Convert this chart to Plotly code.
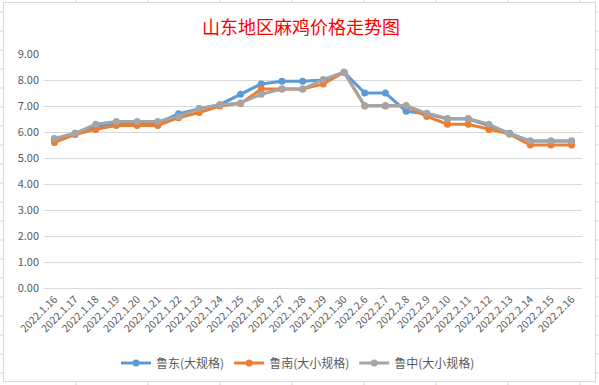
import plotly.graph_objects as go

# ---- data ----
categories = ["2022.1.16", "2022.1.17", "2022.1.18", "2022.1.19", "2022.1.20",
              "2022.1.21", "2022.1.22", "2022.1.23", "2022.1.24", "2022.1.25",
              "2022.1.26", "2022.1.27", "2022.1.28", "2022.1.29", "2022.1.30",
              "2022.2.6", "2022.2.7", "2022.2.8", "2022.2.9", "2022.2.10",
              "2022.2.11", "2022.2.12", "2022.2.13", "2022.2.14", "2022.2.15",
              "2022.2.16"]
ludong = [5.70, 5.95, 6.20, 6.35, 6.35, 6.35, 6.70, 6.90, 7.05, 7.45, 7.85, 7.95, 7.95,
          8.00, 8.30, 7.50, 7.50, 6.80, 6.70, 6.50, 6.50, 6.25, 5.95, 5.65, 5.65, 5.65]
lunan = [5.60, 5.90, 6.10, 6.25, 6.25, 6.25, 6.55, 6.75, 7.00, 7.10, 7.65, 7.65, 7.65,
         7.85, 8.30, 7.00, 7.00, 7.00, 6.60, 6.30, 6.30, 6.10, 5.92, 5.50, 5.50, 5.50]
luzhong = [5.75, 5.95, 6.30, 6.40, 6.40, 6.40, 6.60, 6.90, 7.05, 7.12, 7.45, 7.65, 7.65,
           8.02, 8.30, 7.02, 7.02, 7.02, 6.72, 6.52, 6.52, 6.30, 5.92, 5.65, 5.65, 5.65]
series_names = ["鲁东(大规格)", "鲁南(大小规格)", "鲁中(大小规格)"]
series_colors = ["#5B9BD5", "#ED7D31", "#A5A5A5"]
title_text = "山东地区麻鸡价格走势图"

W, H = 599, 385
L, R, T, B = 44, 582, 54, 288  # plot area in pixels


def px_x(x):
    return (x - L) / (R - L)


def px_y(y):
    return (B - y) / (B - T)


fig = go.Figure()
for name, vals, col in zip(series_names, [ludong, lunan, luzhong], series_colors):
    fig.add_trace(go.Scatter(
        x=categories, y=vals, name=name, mode="lines+markers",
        line=dict(color=col, width=3),
        marker=dict(color=col, size=7, symbol="circle"),
    ))

shapes = []
grid_col = "#D4D4D4"
# spreadsheet cell lines outside the chart
col_x = [76, 148, 220, 292, 364, 436, 508, 580]
for cx in col_x:
    shapes.append(dict(type="line", xref="paper", yref="paper",
                       x0=px_x(cx), x1=px_x(cx), y0=px_y(0), y1=px_y(2.5),
                       line=dict(color=grid_col, width=1), layer="below"))
    shapes.append(dict(type="line", xref="paper", yref="paper",
                       x0=px_x(cx), x1=px_x(cx), y0=px_y(381), y1=px_y(385),
                       line=dict(color=grid_col, width=1), layer="below"))
row_y = [12 + 19 * i for i in range(20)]
for ry in row_y:
    shapes.append(dict(type="line", xref="paper", yref="paper",
                       x0=px_x(0), x1=px_x(3), y0=px_y(ry), y1=px_y(ry),
                       line=dict(color=grid_col, width=1), layer="below"))
    shapes.append(dict(type="line", xref="paper", yref="paper",
                       x0=px_x(596), x1=px_x(599), y0=px_y(ry), y1=px_y(ry),
                       line=dict(color=grid_col, width=1), layer="below"))
# chart border
shapes.append(dict(type="rect", xref="paper", yref="paper",
                   x0=px_x(3.5), x1=px_x(595.5), y0=px_y(2.5), y1=px_y(381.5),
                   line=dict(color="#D9D9D9", width=1), fillcolor="rgba(0,0,0,0)",
                   layer="below"))

fig.update_layout(
    width=W, height=H,
    margin=dict(l=L, r=W - R, t=T, b=H - B, autoexpand=False),
    paper_bgcolor="white", plot_bgcolor="white",
    font=dict(family="Noto Sans CJK SC, Noto Sans, sans-serif", color="#595959"),
    title=dict(text=title_text, x=301 / W, xanchor="center",
               y=1 - 28 / H, yanchor="middle", yref="container", xref="container",
               font=dict(size=18, color="#FF0000",
                         family="Noto Sans CJK SC, sans-serif")),
    xaxis=dict(type="category", range=[-0.5, len(categories) - 0.5], automargin=False,
               showgrid=False, zeroline=False, showline=True, linecolor="#D9D9D9",
               linewidth=1, ticks="", tickangle=-45,
               tickfont=dict(size=10.5, color="#595959")),
    yaxis=dict(range=[0, 9], dtick=1, tickformat=".2f", showgrid=True, automargin=False,
               gridcolor="#D9D9D9", gridwidth=1, zeroline=False, showline=False,
               ticks="", ticklabelstandoff=4,
               tickfont=dict(size=11, color="#595959")),
    legend=dict(orientation="h", xref="container", x=298 / W, xanchor="center",
                yref="container", y=1 - 363 / H, yanchor="middle",
                font=dict(size=12, color="#595959"),
                bgcolor="rgba(0,0,0,0)", itemwidth=30),
    shapes=shapes,
    hovermode=False,
)

fig.write_html("out.html", config={"displayModeBar": False, "staticPlot": True},
               post_script="document.body.style.margin='0';document.body.style.padding='0';")
